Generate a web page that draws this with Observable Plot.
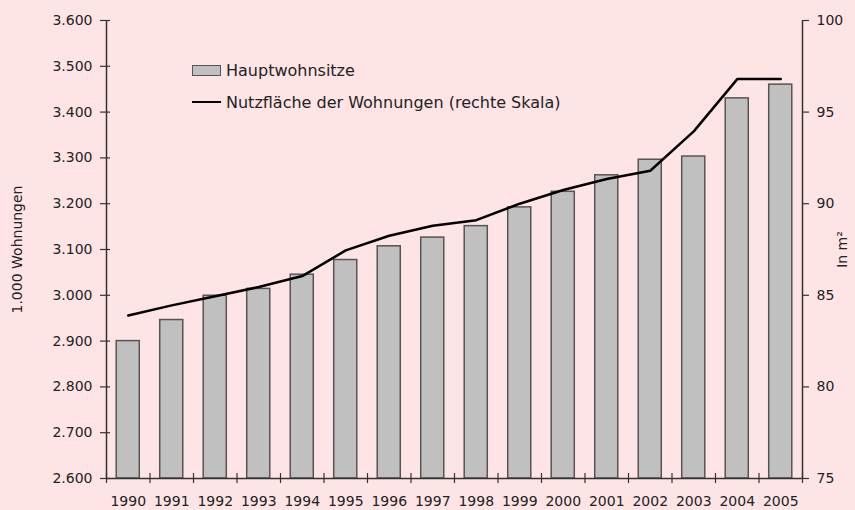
<!DOCTYPE html>
<html>
<head>
<meta charset="utf-8">
<script src="https://cdn.jsdelivr.net/npm/d3@7"></script>
<script src="https://cdn.jsdelivr.net/npm/@observablehq/plot@0.6"></script>
<style>
  html, body { margin: 0; padding: 0; background: #ffe4e6; }
  #wrap { position: relative; width: 855px; height: 510px; font-family: "DejaVu Sans", sans-serif; color: #222; }
  .leg { position: absolute; left: 192px; font-size: 16px; display: flex; align-items: center; height: 20px; }
  .sw { width: 27px; height: 9px; background: #c0c0c0; border: 1px solid #555; margin-right: 5px; }
  .ln { width: 29px; height: 0; border-top: 2.5px solid #000; margin-right: 5px; }
</style>
</head>
<body>
<div id="wrap"></div>
<script>
const years = [1990,1991,1992,1993,1994,1995,1996,1997,1998,1999,2000,2001,2002,2003,2004,2005];
const dwellings = [2900,2946,2999,3014,3045,3077,3107,3126,3151,3192,3226,3262,3296,3303,3430,3460];
const floorArea = [83.9,84.45,84.95,85.45,86.05,87.45,88.25,88.8,89.1,90.0,90.75,91.35,91.8,93.95,96.8,96.8];
const leftTicks = [2600,2700,2800,2900,3000,3100,3200,3300,3400,3500,3600];
const rightTicks = [75,80,85,90,95,100];
const legendLabels = ["Hauptwohnsitze", "Nutzfläche der Wohnungen (rechte Skala)"];
const leftLabel = "1.000 Wohnungen";
const rightLabel = "In m²";

const leftDomain = [2600, 3600];
const rightDomain = [75, 100];
const toLeft = v => leftDomain[0] + (v - rightDomain[0]) * (leftDomain[1] - leftDomain[0]) / (rightDomain[1] - rightDomain[0]);
const fromLeft = v => rightDomain[0] + (v - leftDomain[0]) * (rightDomain[1] - rightDomain[0]) / (leftDomain[1] - leftDomain[0]);

const data = years.map((y, i) => ({year: y, dwellings: dwellings[i], area: floorArea[i]}));
const fmt = d => d3.format(",")(d).replace(/,/g, ".");

const W = 855, H = 510;
const mL = 106, mR = 53, mT = 20, mB = 32;
const halfBand = (W - mL - mR) / years.length / 2;
const firstYear = years[0], lastYear = years[years.length - 1];

const chart = Plot.plot({
  width: W, height: H,
  marginLeft: mL, marginRight: mR, marginTop: mT, marginBottom: mB,
  style: {background: "transparent", fontFamily: "DejaVu Sans, sans-serif", fontSize: "14px", color: "#222"},
  x: {type: "band", domain: years, paddingInner: 0.47, paddingOuter: 0.235, round: false},
  y: {domain: leftDomain},
  marks: [
    Plot.barY(data, {x: "year", y1: leftDomain[0], y2: "dwellings", fill: "#c0c0c0", stroke: "#555", strokeWidth: 1.5}),
    Plot.line(data, {x: "year", y: d => toLeft(d.area), stroke: "#000", strokeWidth: 2.5}),
    Plot.ruleX([firstYear], {dx: -halfBand, stroke: "#333", strokeWidth: 1.5}),
    Plot.ruleX([lastYear], {dx: halfBand, stroke: "#333", strokeWidth: 1.5}),
    Plot.ruleY([leftDomain[0]], {stroke: "#333", strokeWidth: 1.5}),
    Plot.axisY(leftTicks, {anchor: "left", tickSize: 10, dx: 4, tickPadding: 8, tickFormat: fmt, label: leftLabel, labelAnchor: "center", labelArrow: "none", labelOffset: 94, stroke: "#333", strokeWidth: 1.2}),
    Plot.axisY(rightTicks.map(toLeft), {anchor: "right", tickSize: 6, tickPadding: 8, tickFormat: d => fmt(Math.round(fromLeft(d))), label: rightLabel, labelAnchor: "center", labelArrow: "none", labelOffset: 44, stroke: "#333", strokeWidth: 1.2}),
    Plot.axisX({tickSize: 0, tickPadding: 18, tickFormat: d => String(d), label: null}),
    Plot.axisX({tickSize: 10, dy: -5, dx: -halfBand, tickFormat: () => "", label: null, stroke: "#333", strokeWidth: 1.2}),
    Plot.axisX([lastYear], {tickSize: 10, dy: -5, dx: halfBand, tickFormat: () => "", label: null, stroke: "#333", strokeWidth: 1.2})
  ]
});

const wrap = document.getElementById("wrap");
wrap.appendChild(chart);
const l1 = document.createElement("div");
l1.className = "leg"; l1.style.top = "60px";
l1.innerHTML = `<span class="sw"></span><span>${legendLabels[0]}</span>`;
const l2 = document.createElement("div");
l2.className = "leg"; l2.style.top = "92px";
l2.innerHTML = `<span class="ln"></span><span>${legendLabels[1]}</span>`;
wrap.appendChild(l1); wrap.appendChild(l2);
</script>
</body>
</html>
